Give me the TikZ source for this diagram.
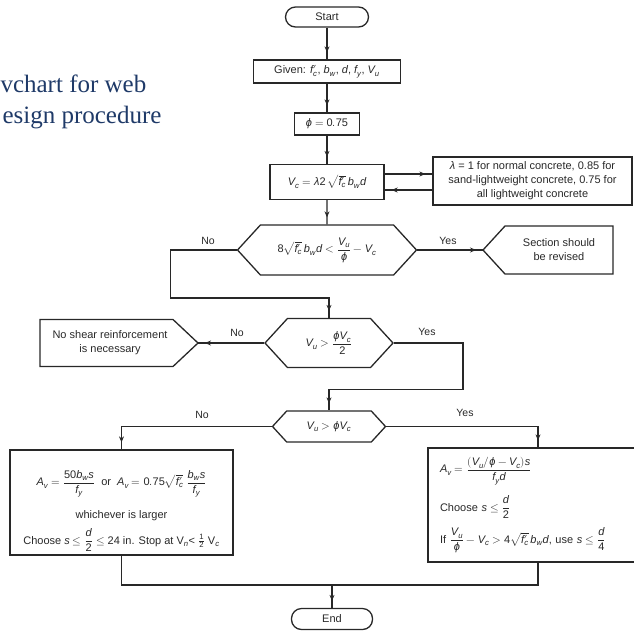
\documentclass[tikz,border=0pt]{standalone}
\usepackage{amsmath}
\usepackage{fontspec}
\usepackage{unicode-math}
\setmainfont{Liberation Sans}
\setmathfont{Latin Modern Math}
\setmathfont[range=it]{Liberation Sans Italic}
\setmathfont[range=up/num]{Liberation Sans}
\newfontfamily\titlefont{Liberation Serif}
\usetikzlibrary{calc,arrows.meta,shapes.symbols,decorations.markings}
\definecolor{titleblue}{RGB}{31,58,104}
\definecolor{ink}{RGB}{40,40,40}

\begin{document}
\begin{tikzpicture}[
    x=1pt, y=-1pt,
    font=\fontsize{11}{14}\selectfont,
    every node/.style={text=ink},
    line/.style={draw, color=ink, line width=1.3pt},
    arr/.style={line, postaction={decorate},
        decoration={markings, mark=at position -7pt with {\arrow{Stealth[length=6pt,width=5pt]}}}},
    term/.style={line, rounded corners=10pt, minimum height=20pt},
    box/.style={line, rectangle, inner sep=4pt},
    decision/.style={line, signal, signal to=west and east, signal pointer angle=95},
    pent/.style={align=center, inner sep=0pt},
    yesno/.style={font=\fontsize{10.5}{12}\selectfont},
    heading/.style={anchor=base west, text=titleblue, font=\titlefont\fontsize{25}{28}\selectfont}
]
\useasboundingbox (0,0) rectangle (634,630);
\clip (0,0) rectangle (634,630);

\node[heading] (title1) at (-3,92) {vchart for web};
\node[heading] (title2) at (-1,123) {esign procedure};

\node[term, minimum width=83pt] (start) at (327,17) {Start};
\node[box, minimum width=147pt, minimum height=23pt] (given) at (327,71.5) {Given: $f'_c$, $b_w$, $d$, $f_y$, $V_u$};
\node[box, minimum width=65pt, minimum height=22pt] (phi) at (327,124) {$\phi = 0.75$};
\node[box, minimum width=114pt, minimum height=35pt] (vc) at (327,182) {$V_c = \lambda 2\,\sqrt{f'_c}\,b_w d$};
\node[box, minimum width=199pt, minimum height=48pt, align=center] (lambda) at (532.5,181)
    {$\lambda$ = 1 for normal concrete, 0.85 for\\sand-lightweight concrete, 0.75 for\\all lightweight concrete};

\node[decision, minimum width=179pt, minimum height=50pt] (test1) at (327,250)
    {$8\sqrt{f'_c}\,b_w d < \dfrac{V_u}{\phi} - V_c$};
\node[pent] (revise) at (559,250) {Section should\\be revised};
\draw[line] ($(revise)+(-54,-24)$) -- ($(revise)+(54,-24)$) -- ($(revise)+(54,24)$)
    -- ($(revise)+(-54,24)$) -- ($(revise)+(-76,0)$) -- cycle;

\node[decision, minimum width=128pt, minimum height=49pt] (test2) at (329,343) {$V_u > \dfrac{\phi V_c}{2}$};
\node[pent] (noshear) at (110,343) {No shear reinforcement\\is necessary};
\draw[line] ($(noshear)+(-70,-23.5)$) -- ($(noshear)+(63,-23.5)$) -- ($(noshear)+(88,0)$)
    -- ($(noshear)+(63,23.5)$) -- ($(noshear)+(-70,23.5)$) -- cycle;

\node[decision, minimum width=113pt, minimum height=31pt] (test3) at (329,426.5) {$V_u > \phi V_c$};

\node[box, minimum width=223pt, minimum height=105pt, inner ysep=1pt, align=center] (minshear) at (121.5,502.5)
    {\rule{0pt}{32pt}$A_v = \dfrac{50b_w s}{f_y}$ \ or \ $A_v = 0.75\sqrt{f'_c}\;\dfrac{b_w s}{f_y}$\\[12pt]
     whichever is larger\\[7pt]
     Choose $s \le \dfrac{d}{2} \le 24$ in. Stop at V$_n$< $\frac{1}{2}$ V$_c$};
\node[box, minimum width=220pt, minimum height=114pt, text width=196pt, align=left] (stirrups) at (538,505)
    {$A_v = \dfrac{(V_u/\phi - V_c)s}{f_y d}$\\[10pt]
     Choose $s \le \dfrac{d}{2}$\\[8pt]
     \mbox{If $\dfrac{V_u}{\phi} - V_c > 4\sqrt{f'_c}\,b_w d$, use $s \le \dfrac{d}{4}$}};

\node[term, minimum width=81pt, minimum height=21pt] (end) at (332,619) {End};

\draw[arr] (start) -- (given);
\draw[arr] (given) -- (phi);
\draw[arr] (phi) -- (vc);
\draw[arr] ([yshift=8pt]vc.east) -- ([yshift=8pt]vc.east -| lambda.west);
\draw[arr] ([yshift=-8pt]vc.east -| lambda.west) -- ([yshift=-8pt]vc.east);
\draw[arr] (vc) -- (test1);
\draw[arr] (test1.east) -- ($(revise)+(-76,0)$);
\draw[arr] (test1.west) -- ++(-66,0) |- ($(test2.north)+(0,-20)$) -- (test2.north);
\draw[arr] (test2.west) -- ($(noshear)+(88,0)$);
\draw[arr] (test2.east) -- ++(69,0) |- ($(test3.north)+(0,-21)$) -- (test3.north);
\draw[arr] (test3.west) -| (minshear.north);
\draw[arr] (test3.east) -| (stirrups.north);
\coordinate (merge) at (332,585);
\draw[line] (minshear.south) |- (merge) -| (stirrups.south);
\draw[arr] (merge) -- (end);

\node[yesno] (no1) at (208,241) {No};
\node[yesno] (yes1) at (448,241) {Yes};
\node[yesno] (no2) at (237,333) {No};
\node[yesno] (yes2) at (427,332) {Yes};
\node[yesno] (no3) at (202,415) {No};
\node[yesno] (yes3) at (465,413) {Yes};
\end{tikzpicture}
\end{document}
